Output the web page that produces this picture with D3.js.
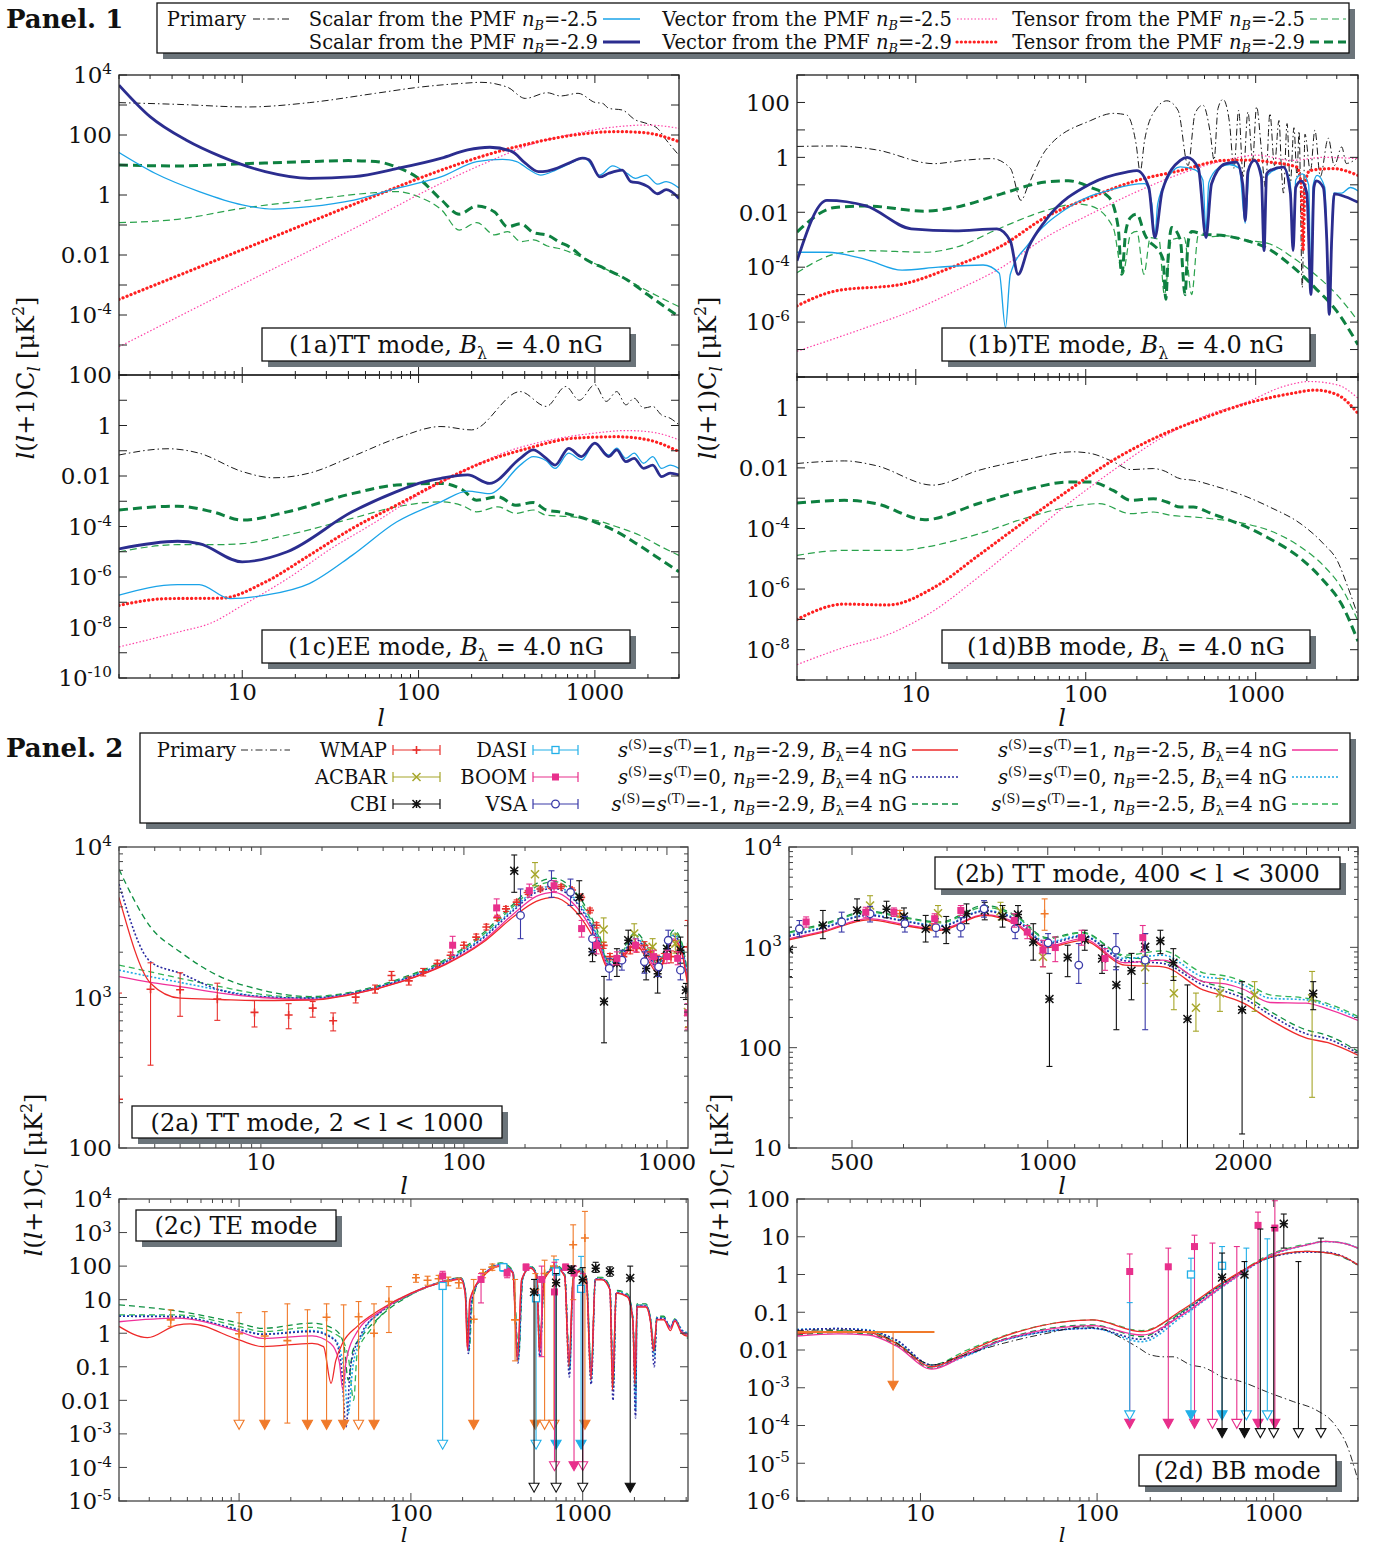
<!DOCTYPE html>
<html>
<head>
<meta charset="utf-8">
<script src="https://cdn.jsdelivr.net/npm/d3@7"></script>
<style>
  body { margin: 0; background: #fff; }
  svg text { font-family: "DejaVu Serif", serif; fill: #111; }
</style>
</head>
<body>
<svg id="fig" width="1390" height="1550"></svg>
<script>
// ---------------- Panel 1 data: [l, l(l+1)Cl]
// (1a) TT
const tt_prim = [[2,1200],[4.3,1050],[10.7,860],[24,1200],[57,2450],[100,3900],[180,5300],[226,5700],[320,3900],[403,1660],[537,2560],[638,2000],[803,2450],[1012,1200],[1100,1150],[1202,770],[1430,680],[1700,316],[1905,257],[2265,166],[2540,68],[3000,21]];
const tt_s25 = [[2,26],[3.2,5.3],[5.7,1.3],[10,0.47],[15,0.34],[24,0.41],[43,0.68],[76,1.7],[135,4.1],[214,13],[300,15.5],[360,13],[427,6.8],[493,4.6],[600,6.8],[760,13],[870,18],[1067,4.6],[1260,9.3],[1520,5.3],[1700,3.6],[1950,4.6],[2265,2.3],[2540,2.8],[3000,1.7]];
const tt_s29 = [[2,4600],[3,410],[4.8,68],[7.6,19],[13.5,6],[24,3.6],[43,4.1],[76,7.7],[135,17],[190,32],[254,39],[339,28],[403,11.5],[479,6],[537,6.3],[713,11.5],[850,17],[925,15],[1067,4],[1200,5.3],[1430,6.8],[1600,2.8],[1800,2.5],[2000,1.9],[2265,1.1],[2540,1.5],[3000,0.77]];
const tt_v25 = [[2,8.7e-6],[10,1.05e-3],[50,0.12],[135,2.5],[250,13],[427,47],[760,110],[1350,190],[2000,215],[3000,166]];
const tt_v29 = [[2,3.3e-4],[10,0.015],[50,0.7],[135,6.8],[239,21],[427,52],[760,100],[1350,130],[1900,120],[3000,60]];
const tt_t25 = [[2,0.12],[4.3,0.155],[10,0.36],[24,0.68],[57,1.2],[76,1.3],[100,0.87],[135,0.32],[170,0.068],[214,0.12],[270,0.047],[320,0.06],[380,0.028],[450,0.032],[537,0.02],[638,0.016],[760,0.011],[1012,0.005],[1350,0.0021],[1800,8.7e-4],[2400,3.6e-4],[3000,1.9e-4]];
const tt_t29 = [[2,10],[4.3,9.3],[10,11],[24,13],[40,14],[57,13],[76,8.3],[100,3.6],[135,0.68],[170,0.23],[214,0.43],[270,0.27],[320,0.087],[380,0.11],[450,0.055],[537,0.046],[638,0.026],[713,0.019],[900,0.0068],[1130,0.0036],[1520,0.0015],[2000,4.7e-4],[3000,8.7e-5]];

// (1b) TE
const te_prim = [[2,2.5],[3.35,2.6],[5.8,1.9],[12.8,0.59],[19,0.78],[28,0.9],[36,0.4],[41.6,0.027],[46,0.1],[58,1.8],[107,22],[145,40],[174,35],[198,3],[209,0.3],[222,4.2],[260,60],[300,115],[350,50],[400,0.5],[440,40],[489,80],[540,8],[569,0.8],[600,60],[642,130],[700,20],[745,0.4],[794,52],[844,0.2],[900,45],[960,0.8],[1012,70],[1080,2],[1142,0.08],[1213,40],[1290,0.5],[1371,22],[1420,0.3],[1458,0.05],[1530,17],[1597,0.1],[1680,12],[1750,0.2],[1800,9],[1880,1.8e-5],[1950,7],[2100,0.3],[2230,9.8],[2400,0.2],[2675,5],[2900,0.5],[3210,2.4],[3410,0.6],[4000,1]];
const te_s25 = [[2,3.5e-4],[3,3.5e-4],[5.1,1.9e-4],[8.3,7.8e-5],[13.6,1e-4],[24.9,1.2e-4],[31,6e-5],[33.7,6.3e-7],[36,5.5e-5],[46,6.9e-4],[79,0.015],[145,0.07],[222,0.11],[245,0.02],[255,1.2e-3],[265,0.02],[300,0.15],[360,0.45],[440,0.35],[489,0.15],[510,2e-3],[530,0.12],[600,0.4],[700,0.55],[800,0.4],[868,4e-3],[920,0.5],[982,0.75],[1080,0.3],[1120,5e-4],[1160,0.2],[1300,0.35],[1458,0.45],[1600,0.1],[1660,5e-4],[1720,0.15],[1880,0.25],[2050,0.1],[2115,1.5e-5],[2180,0.1],[2300,0.22],[2550,0.08],[2710,3e-6],[2870,0.05],[3210,0.05],[3600,0.08],[4000,0.06]];
const te_s29 = [[2,1.7e-4],[3,0.027],[5.1,0.017],[9.4,2.5e-3],[17,2.1e-3],[30,2.5e-3],[36,9e-4],[40,5.5e-5],[46,5.2e-4],[58,5e-3],[107,0.11],[174,0.29],[200,0.33],[235,0.08],[255,1.2e-3],[282,0.06],[360,0.78],[395,1],[460,0.4],[510,1.2e-3],[550,0.11],[660,0.58],[770,0.67],[840,0.1],[868,5e-3],[900,0.3],[982,0.78],[1080,0.19],[1120,4e-4],[1160,0.25],[1213,0.33],[1458,0.44],[1600,0.05],[1660,4e-4],[1720,0.08],[1850,0.14],[2000,0.05],[2115,1e-5],[2200,0.08],[2270,0.14],[2500,0.08],[2620,1e-3],[2710,1.9e-6],[2800,1e-3],[2900,0.047],[3400,0.036],[4000,0.023]];
const te_v25 = [[2,8.7e-8],[5.1,6.3e-7],[9.4,2.5e-6],[17,1.35e-5],[32,9.8e-5],[58,1.2e-3],[107,8.7e-3],[197,0.054],[360,0.25],[660,0.78],[1012,1.2],[1640,0.78],[2500,1],[4000,0.9]];
const te_v29 = [[2,3.9e-6],[3.35,1.35e-5],[8.3,2.4e-5],[17,1.1e-4],[32,6e-4],[58,6.6e-3],[107,0.035],[197,0.14],[360,0.33],[660,0.78],[950,0.8],[1213,0.67],[1750,0.44],[1850,0.1],[1900,4e-4],[1950,0.1],[2080,0.33],[2843,0.39],[4000,0.22]];
const te_t25 = [[2,6.3e-5],[3.35,3e-4],[5.1,4e-4],[11.3,3.5e-4],[17,5.2e-4],[32,2.8e-3],[58,0.0115],[89,0.02],[107,0.017],[145,2.8e-3],[165,5.5e-5],[184,1.6e-3],[200,2e-3],[220,5.5e-5],[240,1.2e-3],[270,1e-3],[290,1e-5],[320,1e-3],[380,1.2e-3],[420,1e-5],[460,1.5e-3],[560,1.3e-3],[660,1.4e-3],[900,9.5e-4],[1213,7e-4],[1660,2.2e-4],[2230,5.5e-5],[3000,1e-5],[4000,1.1e-6]];
const te_t29 = [[2,1.9e-3],[3.35,0.015],[5.1,0.017],[11.3,0.011],[17,0.015],[32,0.047],[58,0.126],[79,0.14],[107,0.08],[137,0.035],[155,3e-3],[163,5.5e-5],[172,2e-3],[184,6.6e-3],[200,8.5e-3],[222,1.6e-3],[285,2e-4],[296,6.8e-6],[305,2e-4],[320,2.8e-3],[360,1e-3],[384,1e-5],[400,8e-4],[420,2e-3],[489,1.6e-3],[660,1.4e-3],[900,9e-4],[1150,5.2e-4],[1660,1e-4],[2230,1.8e-5],[3000,2.5e-6],[4000,1.5e-7]];

// (1c) EE
const ee_prim = [[2,0.068],[3.8,0.12],[5.7,0.08],[10,0.015],[15,8.5e-3],[24,0.013],[42,0.059],[75,0.31],[134,0.91],[200,0.67],[377,22],[530,5.7],[685,35],[815,10],[1000,41],[1160,9],[1330,22],[1500,6.6],[1670,12],[1890,4.9],[2130,5.7],[2390,2.6],[2670,1.95],[3000,1.06]];
const ee_s25 = [[2,1.9e-7],[4.3,5e-7],[5.7,5e-7],[8.5,1.4e-7],[13.5,1.9e-7],[24,5.5e-7],[42,7.2e-6],[75,1.5e-4],[134,9.5e-4],[190,2.5e-3],[253,2e-3],[377,0.027],[447,0.059],[530,0.04],[595,0.02],[710,0.08],[840,0.043],[1000,0.2],[1200,0.068],[1330,0.126],[1500,0.05],[1670,0.08],[1890,0.032],[2130,0.059],[2390,0.02],[2670,0.027],[3000,0.02]];
const ee_s29 = [[2,1.3e-5],[4.3,2.6e-5],[5.7,2.1e-5],[10,4e-6],[18,1e-5],[42,3.8e-4],[75,2.4e-3],[100,5.1e-3],[134,8.1e-3],[190,0.011],[253,5.1e-3],[377,0.05],[447,0.108],[530,0.05],[595,0.027],[710,0.125],[840,0.059],[1000,0.2],[1200,0.059],[1330,0.108],[1500,0.037],[1670,0.05],[1890,0.02],[2130,0.027],[2390,9.4e-3],[2670,0.013],[3000,0.011]];
const ee_v25 = [[2,1.7e-9],[4.3,6.5e-9],[6.8,1.6e-8],[10,7.5e-8],[18,8.5e-7],[32,1.35e-5],[57,1.5e-4],[100,1.8e-3],[178,0.015],[318,0.093],[565,0.27],[1000,0.5],[1500,0.63],[2130,0.54],[3000,0.27]];
const ee_v29 = [[2,7.5e-8],[3.8,1.4e-7],[7.6,1.45e-7],[13.5,6.3e-7],[24,7.2e-6],[42,8.3e-5],[75,7e-4],[134,5.9e-3],[238,0.037],[420,0.126],[750,0.31],[1330,0.36],[2000,0.27],[3000,0.093]];
const ee_t25 = [[2,1e-5],[4.3,1.9e-5],[6.8,1.9e-5],[10,2.1e-5],[18,4.6e-5],[42,2.1e-4],[75,6e-4],[134,9.5e-4],[178,6.6e-4],[213,3.8e-4],[282,6e-4],[356,3.3e-4],[447,4.5e-4],[530,2.8e-4],[750,2.4e-4],[1000,1.8e-4],[1330,9.8e-5],[1780,4.6e-5],[2390,1.55e-5],[3000,7.2e-6]];
const ee_t29 = [[2,4.5e-4],[4.3,6.4e-4],[6.8,3.8e-4],[10,1.8e-4],[18,3.8e-4],[42,2e-3],[75,4.4e-3],[134,5.1e-3],[178,2.8e-3],[213,1.1e-3],[282,1.5e-3],[356,7e-4],[447,8.9e-4],[530,4.5e-4],[630,3.8e-4],[750,2.8e-4],[1000,1.5e-4],[1330,6.2e-5],[1780,1.8e-5],[2390,4.6e-6],[3000,1.6e-6]];

// (1d) BB
const bb_prim = [[2,0.014],[3.8,0.017],[5.8,0.012],[12.6,2.7e-3],[23.4,8.3e-3],[43,0.018],[84,0.034],[107,0.03],[145,0.016],[184,8.8e-3],[250,9.5e-3],[282,8.4e-3],[360,4.4e-3],[430,3.9e-3],[550,2.7e-3],[890,1.1e-3],[1210,5.1e-4],[1850,1.4e-4],[2510,3.1e-5],[3020,8.7e-6],[3500,1.1e-6],[4000,1.3e-7]];
const bb_v25 = [[2,3.2e-9],[3.8,1.2e-8],[6.9,3.2e-8],[12.7,1.9e-7],[23.4,2.5e-6],[43,4e-5],[79,6.6e-4],[145,8.3e-3],[265,0.083],[490,0.49],[890,1.5],[1460,4.9],[2080,7.1],[3020,5.5],[4000,2]];
const bb_v29 = [[2,1e-7],[3.8,3.2e-7],[6.9,3e-7],[12.7,1.1e-6],[23.4,1.3e-5],[43,1.6e-4],[79,1.8e-3],[145,0.018],[265,0.107],[490,0.43],[890,1.35],[1650,2.9],[2230,3.7],[3020,2.6],[4000,0.63]];
const bb_t25 = [[2,1.3e-5],[3.8,1.9e-5],[8.3,1.9e-5],[11.3,2.4e-5],[23.4,6.6e-5],[43,2.1e-4],[79,5.1e-4],[120,6.6e-4],[184,3.1e-4],[250,3.5e-4],[320,2.7e-4],[430,2.4e-4],[550,2.1e-4],[890,1.4e-4],[1210,8.5e-5],[1850,2.4e-5],[2510,5.9e-6],[3200,1.1e-6],[4000,8.9e-8]];
const bb_t29 = [[2,6.9e-4],[3.8,8.5e-4],[5.8,6.7e-4],[11.3,1.95e-4],[23.4,6.7e-4],[43,1.8e-3],[79,3.4e-3],[107,3.4e-3],[145,1.8e-3],[184,8.5e-4],[250,9.6e-4],[300,7.5e-4],[360,5.1e-4],[430,5.1e-4],[550,3.1e-4],[890,1.1e-4],[1210,4.6e-5],[1850,1e-5],[2510,1.9e-6],[3200,3.2e-7],[4000,1.9e-8]];

// ---------------- Panel 2 model curves
// (2a) TT, 2 < l < 1000
const tt2a_s1_29 = [[2,4630],[2.86,1245],[4,990],[6.3,970],[10,955],[17.5,960],[29.3,1060],[48.9,1270],[81.5,1660],[123,2300],[176,3450],[227,4350],[278,4630],[341,3950],[398,3050],[464,2100],[514,1550],[600,1800],[699,2250],[800,1800],[903,1450],[1000,2000],[1080,2400],[1180,2000],[1272,1150]];
const tt2a_s1_25 = [[2,1375],[2.86,1260],[4,1180],[6.3,1070],[10,1000],[17.5,970],[29.3,1065],[48.9,1275],[81.5,1680],[123,2350],[176,3600],[227,4700],[278,5000],[341,4300],[398,3300],[464,2250],[514,1600],[600,1850],[699,2350],[800,1900],[903,1500],[1000,2050],[1080,2450],[1180,2050],[1272,1200]];
const tt2a_s0_29 = [[2,5680],[2.86,1725],[4,1450],[6.3,1120],[10,1015],[17.5,990],[29.3,1080],[48.9,1300],[81.5,1720],[123,2450],[176,3800],[227,5000],[278,5300],[341,4600],[398,3500],[464,2350],[514,1650],[600,1900],[699,2450],[800,2000],[903,1550],[1000,2100],[1080,2550],[1180,2150],[1272,1250]];
const tt2a_s0_25 = [[2,1520],[2.86,1375],[4,1260],[6.3,1120],[10,1015],[17.5,990],[29.3,1080],[48.9,1310],[81.5,1740],[123,2500],[176,3900],[227,5200],[278,5500],[341,4750],[398,3600],[464,2400],[514,1680],[600,1950],[699,2500],[800,2050],[903,1580],[1000,2150],[1080,2600],[1180,2200],[1272,1280]];
const tt2a_sm_29 = [[2,7100],[2.86,2940],[4,2010],[6.3,1375],[10,1125],[17.5,1015],[29.3,1100],[48.9,1340],[81.5,1800],[123,2650],[176,4200],[227,5700],[278,6200],[341,5300],[398,4000],[464,2600],[514,1750],[600,2050],[699,2700],[800,2200],[903,1650],[1000,2300],[1080,2800],[1180,2350],[1272,1350]];
const tt2a_sm_25 = [[2,1640],[2.86,1480],[4,1340],[6.3,1180],[10,1050],[17.5,1000],[29.3,1090],[48.9,1320],[81.5,1770],[123,2580],[176,4050],[227,5450],[278,5900],[341,5050],[398,3800],[464,2500],[514,1720],[600,2000],[699,2600],[800,2150],[903,1620],[1000,2250],[1080,2700],[1180,2300],[1272,1320]];

// (2b) TT, 400 < l < 3000
const l_2b = [400,452,530,601,683,799,893,997,1131,1314,1503,1733,1876,2000,2197,2494,2698,3000];
const tt2b_s1_29 = [1190,1420,1880,1650,1480,2080,1690,995,1175,665,640,376,324,278,190,125,112,84];
const tt2b_s1_25 = [1220,1450,1930,1690,1520,2120,1750,1025,1220,702,745,455,432,382,282,278,242,187];
const tt2b_s0_29 = [1290,1560,2080,1820,1620,2290,1880,1090,1290,734,691,422,362,311,213,138,122,88];
const tt2b_s0_25 = [1320,1590,2120,1850,1650,2330,1930,1130,1320,774,836,510,480,422,311,300,261,197];
const tt2b_sm_29 = [1420,1720,2290,2000,1790,2610,2080,1250,1410,804,734,455,391,336,230,151,132,92];
const tt2b_sm_25 = [1390,1680,2240,1970,1750,2510,2030,1220,1390,836,922,558,518,455,336,311,274,205];

// (2c) TE
const te2_s1_29 = [[2,1.6],[2.93,0.74],[4.35,1.75],[5.2,1.9],[10,0.63],[13.7,0.4],[26.6,0.5],[31,0.4],[34.3,0.032],[36.5,0.15],[40,0.5],[48.7,1.6],[66,5],[100,15.6],[163,35],[195,40],[207,15],[213,0.35],[220,10],[263,49],[334,98],[392,62],[416,0.15],[441,39],[495,87],[541,49],[558,0.3],[596,39],[700,87],[785,49],[830,0.1],[880,39],[960,69],[1050,39],[1114,0.04],[1185,39],[1295,39],[1440,19.6],[1490,0.02],[1567,15.6],[1818,12],[1955,2.5],[2012,0.03],[2070,6],[2330,6],[2470,2.5],[2590,0.3],[2700,2.5],[2960,2.5],[3240,1.2],[3440,2.3],[3760,1],[4100,0.8]];
const te2_s1_25 = [[2,2.2],[4.35,2.8],[10,1.12],[13.7,0.7],[26.6,0.83],[34,0.5],[38.3,0.14],[40.2,0.02],[41.9,0.14],[48.7,1.12],[66,4.4],[100,15],[163,36],[195,42],[207,16],[214,0.3],[222,10],[263,52],[334,105],[392,65],[418,0.2],[441,41],[495,90],[541,50],[560,0.25],[596,40],[700,90],[785,50],[833,0.15],[880,40],[960,72],[1050,40],[1118,0.05],[1185,40],[1295,40],[1440,20],[1495,0.05],[1567,16],[1818,12.5],[1955,2.6],[2020,0.05],[2070,6.3],[2330,6.3],[2470,2.6],[2600,0.35],[2700,2.6],[2960,2.6],[3240,1.4],[3440,2.4],[3760,1.1],[4100,0.9]];
const te2_s0_29 = [[2,3.2],[4.35,3.1],[10,1.26],[13.7,0.93],[26.6,1.12],[36,0.63],[39.4,0.1],[41.9,1.6e-3],[44.5,0.1],[51.7,1],[66,4],[100,15],[163,37],[195,43],[207,17],[216,0.25],[225,9],[263,52],[334,108],[392,66],[420,0.13],[445,40],[495,92],[541,52],[562,0.2],[596,42],[700,92],[785,52],[836,0.05],[880,41],[960,74],[1050,42],[1120,0.03],[1185,41],[1295,41],[1440,21],[1500,0.01],[1567,16],[1818,13],[1955,2.8],[2030,3e-3],[2070,6.5],[2330,6.5],[2470,2.8],[2610,0.1],[2700,2.8],[2960,2.8],[3240,1.5],[3440,2.5],[3760,1.2],[4100,0.9]];
const te2_s0_25 = [[2,3.3],[4.35,3.15],[10,1.31],[13.7,0.95],[26.6,1.2],[36,0.66],[40.6,0.1],[43.2,4e-3],[45.9,0.1],[53.3,1.12],[66,4.2],[100,15],[163,37],[195,44],[207,18],[217,0.3],[226,9],[263,54],[334,110],[392,68],[421,0.15],[446,41],[495,94],[541,53],[563,0.25],[596,43],[700,94],[785,53],[838,0.08],[880,42],[960,76],[1050,43],[1122,0.04],[1185,42],[1295,42],[1440,22],[1505,0.02],[1567,17],[1818,13.5],[1955,2.9],[2035,5e-3],[2070,6.8],[2330,6.8],[2470,2.9],[2620,0.2],[2700,2.9],[2960,2.9],[3240,1.6],[3440,2.6],[3760,1.3],[4100,1.0]];
const te2_sm_29 = [[2,7],[4.35,4.6],[10,2],[13.7,1.4],[26.6,2],[36,1.3],[40.6,0.5],[43.2,0.04],[45.9,0.3],[51.7,0.8],[66,3.1],[100,14],[163,38],[195,46],[207,20],[218,0.3],[228,9],[263,55],[334,125],[392,75],[424,0.2],[448,45],[495,100],[541,58],[565,0.3],[596,46],[700,105],[785,58],[840,0.1],[880,46],[960,82],[1050,46],[1125,0.06],[1185,46],[1295,46],[1440,24],[1510,0.03],[1567,19],[1818,15],[1955,3.2],[2040,0.02],[2070,7.5],[2330,7.5],[2470,3.2],[2630,0.3],[2700,3.2],[2960,3.2],[3240,1.4],[3440,2.6],[3760,1.1],[4100,0.7]];
const te2_sm_25 = [[2,3.5],[4.35,3.5],[10,1.6],[13.7,1.12],[26.6,1.5],[38.3,0.8],[43.2,0.2],[46.4,0.01],[48.7,0.25],[58.4,1.3],[70,4.4],[100,14],[163,37],[195,45],[207,19],[217,0.35],[227,9],[263,54],[334,120],[392,72],[422,0.25],[447,44],[495,97],[541,56],[564,0.3],[596,45],[700,100],[785,56],[838,0.12],[880,45],[960,80],[1050,45],[1123,0.07],[1185,45],[1295,45],[1440,23],[1505,0.04],[1567,18],[1818,14],[1955,3],[2035,0.03],[2070,7],[2330,7],[2470,3],[2620,0.35],[2700,3],[2960,3],[3240,1.5],[3440,2.7],[3760,1.2],[4100,0.8]];

// (2d) BB
const l_2d = [2,3.4,5.1,7.3,11.6,18.4,29.4,94,179,303,543,971,1549,1955,2466,3000];
const bb2_s1_29 = [0.0266,0.0307,0.0288,0.015,0.0036,0.009,0.0226,0.0625,0.0307,0.115,0.72,3.0,4.1,3.8,3.0,1.8];
const bb2_s1_25 = [0.0235,0.0266,0.025,0.0128,0.0031,0.0078,0.0184,0.0443,0.025,0.085,0.59,3.33,6.1,7.5,6.8,5.0];
const bb2_s0_29 = [0.034,0.0368,0.0326,0.0184,0.004,0.0074,0.0184,0.0376,0.0192,0.094,0.65,2.88,3.9,3.9,3.0,1.8];
const bb2_s0_25 = [0.0354,0.0368,0.034,0.0177,0.0036,0.0071,0.0177,0.0376,0.0166,0.077,0.565,3.19,6.1,7.4,6.8,5.0];
const bb2_sm_29 = [0.025,0.0288,0.0266,0.0136,0.0033,0.0082,0.0192,0.0461,0.0226,0.104,0.69,2.88,4.1,3.8,2.88,1.77];
const bb2_sm_25 = [0.0288,0.0326,0.0307,0.0157,0.004,0.01,0.0235,0.0625,0.0326,0.104,0.65,3.54,6.4,7.5,6.8,5.0];
const bb2_prim = [[2,0.033],[3.4,0.034],[5.1,0.031],[6.8,0.019],[10.3,4.9e-3],[11.6,4e-3],[16.4,6.6e-3],[29.4,0.015],[52.7,0.028],[84,0.041],[106,0.037],[134,0.022],[169,0.012],[201,7.4e-3],[240,6.6e-3],[269,6.6e-3],[340,4e-3],[405,3.4e-3],[456,2.6e-3],[510,1.9e-3],[610,1.6e-3],[970,7e-4],[1290,4.3e-4],[1730,2.6e-4],[2200,1.1e-4],[2620,2.7e-5],[3000,3.5e-6]];

// ---------------- Panel 2 measurements: [l, value, low, high, arrow(0 none,1 filled,2 open)]
const wmap_2a = [[2,211,60,1070],[2.86,1135,355,1700],[4,1125,750,1460],[6.1,975,705,1245],[9.3,796,637,955],[13.7,765,620,910],[18,850,740,940],[22.7,700,600,790],[29.3,1005,920,1065],[36.5,1135,1070,1210],[44,1400,1300,1490],[53.5,1290,1210,1370],[63,1480,1390,1560],[74,1680,1600,1770],[86,1910,1820,2000],[100,2225,2130,2330],[115,2520,2420,2640],[129,2940,2810,3070],[146,3390,3240,3520],[161,3880,3730,4030],[182,4300,4150,4450],[206,4990,4830,5150],[238,5260,5100,5420],[268,5450,5290,5610],[301,5450,5290,5610],[341,5180,5020,5340],[378,4630,4480,4780],[418,3790,3650,3930],[450,3020,2900,3140],[488,2220,2120,2320],[524,1870,1780,1960],[567,1730,1640,1820],[610,1870,1770,1970],[660,2060,1950,2170],[710,2120,2000,2240],[775,2220,2090,2350],[830,2010,1880,2140],[895,1780,1650,1910],[965,1820,1680,1960],[1047,1870,1700,2040],[1130,2010,1800,2220],[1265,2170,630,3250]];
const boom_2a = [[88,2225,1910,2550],[145,3940,3450,4520],[210,5130,4630,5670],[278,5530,5050,5970],[380,2870,2520,3250],[450,2220,1950,2500],[567,1820,1650,2010],[700,2220,2010,2450],[860,1870,1690,2060],[1000,1870,1690,2060],[1130,1820,1650,2010],[1265,790,610,910]];
const acbar_2a = [[224,6600,5530,7880],[488,2830,2340,3380],[690,2660,2280,3090],[850,2170,1870,2460],[1100,2280,1970,2640],[1270,800,640,1000]];
const cbi_2a = [[177,6950,5000,8850],[370,4630,3600,5970],[430,2010,1730,2400],[490,940,500,1380],[567,1690,1380,2110],[645,2400,2060,2800],[790,1560,1310,1910],[900,1440,1070,1780],[1000,2110,1820,2400],[1166,2060,1690,2520],[1240,1120,970,1240]];
const vsa_2a = [[190,3510,2460,5260],[270,5670,4630,6950],[335,5000,4090,6120],[430,2460,2010,3020],[520,1560,1310,1820],[600,1770,1520,2060],[775,1730,1450,2010],[910,1600,1380,1870],[1015,2400,2060,2800],[1166,1520,1310,1820]];

const cbi_2b = [[400,950,510,1590],[451,1650,1220,2330],[509,2330,1850,3040],[565,2400,1970,2880],[601,2030,1590,2470],[649,1530,1130,2080],[698,1500,1090,2030],[750,2160,1720,2710],[800,2330,1880,2810],[852,2030,1590,2610],[900,2120,1690,2610],[950,1130,745,1720],[1006,305,65,551],[1073,792,510,1050],[1140,1190,935,1480],[1212,774,550,1050],[1275,422,151,640],[1345,585,300,870],[1412,1010,691,1370],[1490,1160,865,1480],[1560,702,468,970],[1640,193,9,422],[1990,239,13.8,455],[2560,344,239,455]];
const acbar_2b = [[533,2610,2080,3270],[678,2190,1790,2610],[846,2290,1880,2810],[983,804,640,970],[1412,632,437,836],[1563,348,239,510],[1690,250,146,350],[1840,348,230,490],[2080,336,230,455],[2550,311,32,575]];
const boom_2b = [[425,1790,1590,2010],[525,2240,1970,2510],[580,2240,2030,2470],[670,1930,1720,2160],[735,2330,2080,2610],[888,1850,1590,2160],[930,1420,1220,1650],[983,937,640,1175],[1027,995,720,1270],[1127,1250,1050,1480],[1225,774,590,970],[1400,1250,902,1650]];
const vsa_2b = [[415,1530,1270,1850],[482,1790,1420,2240],[533,2160,1790,2560],[603,1720,1420,2030],[673,1570,1270,1930],[735,1590,1270,1970],[798,2420,2000,2920],[891,1530,1220,1930],[1001,1110,865,1370],[1116,665,437,1090],[1273,937,598,1370],[1412,745,151,1370]];
const wmap_2b = [[592,2160,2000,2330],[664,1590,1480,1720],[989,2160,1480,3040]];

const wmap_2c = [[4,2.5,1.6,5,0],[10,0.96,0.0018,4.1,2],[14.1,0.83,0.0018,4.4,1],[19.1,0.6,0.0021,7.5,0],[25,null,0.0018,5,1],[32.3,3,0.0018,7.5,1],[40.6,null,0.0018,7,1],[49.6,3.1,0.0018,8.8,2],[61,1,0.0018,7.5,1],[74.5,8.8,1.05,24.5,0],[107,45,33,56,0],[125,38,27,50,0],[145,42,31,53,0],[165,36,26,47,0],[190,32,22,44,0],[232,2.6,0.0018,40,1],[263,62,45,80,0],[298,93,75,115,0],[404,2.5,0.15,40,0],[530,20,0.0018,60,1],[600,60,0.0018,150,2],[680,100,0.0018,200,2],[880,435,10,1700,0],[1030,690,0.0018,4270,1]];
const dasi_2c = [[153,25.7,4.6e-4,31,2],[345,93,70,120,0],[535,11,4.6e-4,40,2],[700,69,4.6e-4,155,1],[978,21,4.6e-4,195,1]];
const boom_2c = [[153,51,35,70,0],[256,40,8,60,0],[363,62,45,80,0],[468,93,75,115,0],[577,40,0.2,100,0],[685,17,1.05e-4,130,2],[795,93,75,115,0],[890,62,1.05e-4,100,1],[1000,null,1.05e-4,60,2]];
const cbi_2c = [[521,17,2.4e-5,40,2],[700,32,2.4e-5,60,2],[860,81,60,100,0],[1000,39,2.4e-5,90,2],[1190,87,65,130,0],[1440,69,50,95,0],[1890,44,2.4e-5,100,1]];

const wmap_2d = [[7,null,1.1e-3,0.03,1]];
const wmap_2d_bin = [2,12,0.03];
const boom_2d = [[153,1.2,1.07e-4,3.5,1],[253,1.6,1.07e-4,5,1],[356,5.5,1.07e-4,11,1],[450,null,1.07e-4,6.8,2],[618,null,1.07e-4,5.5,2],[815,20,1.07e-4,45,1],[1015,17,1.07e-4,90,1]];
const dasi_2d = [[153,null,1.8e-4,0.18,2],[340,1.0,1.8e-4,2.7,1],[510,1.7,1.8e-4,5.5,1],[700,null,1.8e-4,5,2],[920,null,1.8e-4,8.8,2]];
const cbi_2d = [[510,0.83,6.1e-5,3.7,1],[683,1.0,6.1e-5,2.2,1],[840,null,6.1e-5,16,2],[1000,null,6.1e-5,17.6,2],[1140,22,5,40,0],[1380,null,6.1e-5,2.2,2],[1850,null,6.1e-5,9.2,2]];

// ---------------- styles
const S1 = {
  prim: {c: '#1a1a1a', w: 1, d: '7,3,1.5,3'},
  s25: {c: '#1aa3e8', w: 1.3},
  s29: {c: '#2b2d8f', w: 2.8},
  v25: {c: '#ff3fa6', w: 1.2, d: '1.5,2'},
  v29: {c: '#ff2020', w: 3.2, d: '0.1,4.2', cap: 'round'},
  t25: {c: '#2aa24c', w: 1.2, d: '7,4'},
  t29: {c: '#0e8040', w: 3, d: '9,5'}
};
const S2 = {
  s1_29: {c: '#ee2a2a', w: 1.3},
  s1_25: {c: '#f0309a', w: 1.3},
  s0_29: {c: '#2a2aa0', w: 1.6, d: '2,2'},
  s0_25: {c: '#1ea8e4', w: 1.6, d: '2,2'},
  sm_29: {c: '#0f9042', w: 1.3, d: '6,4'},
  sm_25: {c: '#32b455', w: 1.3, d: '6,4'},
  prim: {c: '#111', w: 0.9, d: '7,3,1.5,3'}
};
const DS = {
  WMAP: {c: '#e8302c', m: 'plus'},
  WMAPo: {c: '#f07a2a', m: 'plus'},
  ACBAR: {c: '#a6a62a', m: 'cross'},
  CBI: {c: '#111', m: 'star'},
  DASI: {c: '#22b0e8', m: 'sqo'},
  BOOM: {c: '#e8308c', m: 'sqf'},
  VSA: {c: '#3a3aa8', m: 'circ'}
};

const svg = d3.select('#fig');
const TF = 23; // tick label size
let clipN = 0;

function rich(t, parts, fs) {
  let off = 0;
  parts.forEach(([s, st]) => {
    const ts = t.append('tspan').text(s);
    let target = 0, size = fs;
    if (st.includes('sup')) { target = -fs * 0.4; size = fs * 0.66; }
    if (st.includes('sub')) { target = fs * 0.25; size = fs * 0.66; }
    if (st.startsWith('i')) ts.attr('font-style', 'italic');
    ts.attr('font-size', size).attr('dy', target - off);
    off = target;
  });
}

function logTicks(d) {
  const out = [];
  for (let e = Math.floor(Math.log10(d[0])); e <= Math.ceil(Math.log10(d[1])); e++) {
    for (let m = 1; m <= 9; m++) {
      const v = m * Math.pow(10, e);
      if (v >= d[0] * 0.999 && v <= d[1] * 1.001) out.push([v, m === 1]);
    }
  }
  return out;
}

function makePlot(f) {
  const x = d3.scaleLog().domain(f.xd).range(f.xr);
  const y = d3.scaleLog().domain(f.yd).range([f.yr[1], f.yr[0]]);
  const id = 'clip' + (clipN++);
  svg.append('clipPath').attr('id', id).append('rect')
    .attr('x', f.xr[0]).attr('y', f.yr[0]).attr('width', f.xr[1] - f.xr[0]).attr('height', f.yr[1] - f.yr[0]);
  const g = svg.append('g');
  const plot = g.append('g').attr('clip-path', `url(#${id})`);
  const ax = g.append('g').attr('stroke', f.fc || '#222');
  const [x0, x1] = f.xr, [y0, y1] = f.yr;
  (f.xticks || logTicks(f.xd)).forEach(([v, major]) => {
    const px = x(v), len = major ? 8 : 4;
    ax.append('line').attr('x1', px).attr('x2', px).attr('y1', y1).attr('y2', y1 - len);
    ax.append('line').attr('x1', px).attr('x2', px).attr('y1', y0).attr('y2', y0 + len);
  });
  logTicks(f.yd).forEach(([v, major]) => {
    if (!major && !f.yMinor) return;
    const py = y(v), len = major ? 8 : 4;
    ax.append('line').attr('x1', x0).attr('x2', x0 + len).attr('y1', py).attr('y2', py);
    ax.append('line').attr('x1', x1).attr('x2', x1 - len).attr('y1', py).attr('y2', py);
  });
  ax.append('rect').attr('x', x0).attr('y', y0).attr('width', x1 - x0).attr('height', y1 - y0)
    .attr('fill', 'none').attr('stroke-width', 1.3);
  const lab = svg.append('g');
  (f.xlab || []).forEach(v => {
    lab.append('text').attr('x', x(v)).attr('y', y1 + (f.xdy || 22)).attr('text-anchor', 'middle')
      .attr('font-size', TF).text(String(v));
  });
  (f.ylab || []).forEach(v => {
    const e = Math.round(Math.log10(v));
    const t = lab.append('text').attr('x', x0 - 7).attr('y', y(v) + TF * 0.36)
      .attr('text-anchor', 'end').attr('font-size', TF);
    if (Math.abs(e) >= 3) rich(t, [['10', ''], [String(e), 'sup']], TF);
    else t.text(e >= 0 ? String(Math.round(v)) : v.toFixed(-e));
  });
  return {x, y, plot};
}

function curve(p, data, st) {
  p.plot.append('path').datum(data)
    .attr('d', d3.line().x(d => p.x(d[0])).y(d => p.y(d[1])).curve(d3.curveMonotoneX))
    .attr('fill', 'none').attr('stroke', st.c).attr('stroke-width', st.w)
    .attr('stroke-linecap', st.cap || 'butt')
    .attr('stroke-dasharray', st.d || null);
}
const zip = (ls, vs) => ls.map((l, i) => [l, vs[i]]);

function marker(g, type, cx, cy, c) {
  const s = 4;
  if (type === 'plus') g.append('path').attr('d', `M${cx - s},${cy}h${2 * s}M${cx},${cy - s}v${2 * s}`).attr('stroke', c).attr('stroke-width', 1.6);
  if (type === 'cross') g.append('path').attr('d', `M${cx - s},${cy - s}l${2 * s},${2 * s}M${cx - s},${cy + s}l${2 * s},${-2 * s}`).attr('stroke', c).attr('stroke-width', 1.5);
  if (type === 'star') g.append('path').attr('d', `M${cx - s},${cy - s}l${2 * s},${2 * s}M${cx - s},${cy + s}l${2 * s},${-2 * s}M${cx},${cy - s}v${2 * s}M${cx - s},${cy}h${2 * s}`).attr('stroke', c).attr('stroke-width', 1.5);
  if (type === 'sqo') g.append('rect').attr('x', cx - 3.5).attr('y', cy - 3.5).attr('width', 7).attr('height', 7).attr('fill', '#fff').attr('stroke', c).attr('stroke-width', 1.3);
  if (type === 'sqf') g.append('rect').attr('x', cx - 3.5).attr('y', cy - 3.5).attr('width', 7).attr('height', 7).attr('fill', c);
  if (type === 'circ') g.append('circle').attr('cx', cx).attr('cy', cy).attr('r', 3.8).attr('fill', '#fff').attr('stroke', c).attr('stroke-width', 1.3);
}

function errbars(p, rows, ds) {
  const g = p.plot.append('g');
  rows.forEach(([l, v, lo, hi, arrow]) => {
    const px = p.x(l), ph = p.y(hi), pl = p.y(lo);
    g.append('line').attr('x1', px).attr('x2', px).attr('y1', ph).attr('y2', pl).attr('stroke', ds.c).attr('stroke-width', 1.1);
    g.append('line').attr('x1', px - 3).attr('x2', px + 3).attr('y1', ph).attr('y2', ph).attr('stroke', ds.c).attr('stroke-width', 1.1);
    if (!arrow) {
      g.append('line').attr('x1', px - 3).attr('x2', px + 3).attr('y1', pl).attr('y2', pl).attr('stroke', ds.c).attr('stroke-width', 1.1);
    } else {
      g.append('path').attr('d', `M${px - 5},${pl - 5}L${px + 5},${pl - 5}L${px},${pl + 4}Z`)
        .attr('fill', arrow === 1 ? ds.c : '#fff').attr('stroke', ds.c).attr('stroke-width', 1.1);
    }
    if (v != null) marker(g, ds.m, px, p.y(v), ds.c);
  });
}

function tag(x, y, w, h, parts, fs) {
  svg.append('rect').attr('x', x + 6).attr('y', y + 6).attr('width', w).attr('height', h).attr('fill', '#6b747a');
  svg.append('rect').attr('x', x).attr('y', y).attr('width', w).attr('height', h)
    .attr('fill', '#fff').attr('stroke', '#111').attr('stroke-width', 1.3);
  const t = svg.append('text').attr('x', x + w / 2).attr('y', y + h / 2 + fs * 0.36)
    .attr('text-anchor', 'middle').attr('font-size', fs);
  rich(t, parts, fs);
}

function yTitle(cx, cy) {
  const t = svg.append('text').attr('x', cx).attr('y', cy).attr('text-anchor', 'middle')
    .attr('font-size', 24).attr('transform', `rotate(-90,${cx},${cy})`);
  rich(t, [['l', 'i'], ['(', ''], ['l', 'i'], ['+1)C', ''], ['l', 'isub'], ['  [μK', ''], ['2', 'sup'], [']', '']], 24);
}
function xTitle(cx, cy, fs) {
  svg.append('text').attr('x', cx).attr('y', cy).attr('text-anchor', 'middle')
    .attr('font-size', fs || 24).attr('font-style', 'italic').text('l');
}

// ---------------- Panel 1
const p1a = makePlot({xr: [119, 679], yr: [75, 375], xd: [2, 3000], yd: [1e-6, 1e4], ylab: [1e4, 100, 1, 0.01, 1e-4]});
const p1c = makePlot({xr: [119, 679], yr: [375, 678], xd: [2, 3000], yd: [1e-10, 100], ylab: [100, 1, 0.01, 1e-4, 1e-6, 1e-8, 1e-10], xlab: [10, 100, 1000]});
const p1b = makePlot({xr: [797, 1358], yr: [75, 377], xd: [2, 4000], yd: [1e-8, 1e3], ylab: [100, 1, 0.01, 1e-4, 1e-6]});
const p1d = makePlot({xr: [797, 1358], yr: [377, 680], xd: [2, 4000], yd: [1e-9, 10], ylab: [1, 0.01, 1e-4, 1e-6, 1e-8], xlab: [10, 100, 1000]});

[[p1a, [tt_prim, tt_t25, tt_t29, tt_v25, tt_v29, tt_s25, tt_s29]],
 [p1b, [te_prim, te_t25, te_t29, te_v25, te_v29, te_s25, te_s29]],
 [p1c, [ee_prim, ee_t25, ee_t29, ee_v25, ee_v29, ee_s25, ee_s29]]].forEach(([p, ds]) => {
  const st = [S1.prim, S1.t25, S1.t29, S1.v25, S1.v29, S1.s25, S1.s29];
  ds.forEach((d, i) => curve(p, d, st[i]));
});
[bb_prim, bb_t25, bb_t29, bb_v25, bb_v29].forEach((d, i) =>
  curve(p1d, d, [S1.prim, S1.t25, S1.t29, S1.v25, S1.v29][i]));

const tagTxt = (id, mode) => [[`(${id})${mode} mode, `, ''], ['B', 'i'], ['λ', 'sub'], [' = 4.0 nG', '']];
tag(262, 328, 368, 33, tagTxt('1a', 'TT'), 24);
tag(942, 328, 368, 33, tagTxt('1b', 'TE'), 24);
tag(262, 630, 368, 33, tagTxt('1c', 'EE'), 24);
tag(942, 630, 368, 33, tagTxt('1d', 'BB'), 24);

yTitle(34, 378); yTitle(716, 378);
xTitle(381, 726); xTitle(1062, 726);

// legend 1
svg.append('rect').attr('x', 163).attr('y', 9).attr('width', 1192).attr('height', 50).attr('fill', '#6b747a');
svg.append('rect').attr('x', 157).attr('y', 3).attr('width', 1192).attr('height', 50).attr('fill', '#fff').attr('stroke', '#111').attr('stroke-width', 1.3);
svg.append('text').attr('x', 6).attr('y', 28).attr('font-size', 26).attr('font-weight', 'bold').text('Panel. 1');
const pmf = (kind, nb) => [[kind + ' from the PMF ', ''], ['n', 'i'], ['B', 'isub'], ['=' + nb, '']];
const leg1 = [
  [[['Primary', '']], S1.prim, 246, 253, 290, 19],
  [pmf('Scalar', '-2.5'), S1.s25, 598, 603, 640, 19],
  [pmf('Vector', '-2.5'), S1.v25, 952, 957, 997, 19],
  [pmf('Tensor', '-2.5'), S1.t25, 1305, 1310, 1346, 19],
  [pmf('Scalar', '-2.9'), S1.s29, 598, 603, 640, 42],
  [pmf('Vector', '-2.9'), S1.v29, 952, 957, 997, 42],
  [pmf('Tensor', '-2.9'), S1.t29, 1305, 1310, 1346, 42]
];
leg1.forEach(([parts, st, te, a, b, yy]) => {
  const t = svg.append('text').attr('x', te).attr('y', yy + 6.5).attr('text-anchor', 'end').attr('font-size', 19.5);
  rich(t, parts, 19.5);
  svg.append('line').attr('x1', a).attr('x2', b).attr('y1', yy).attr('y2', yy)
    .attr('stroke', st.c).attr('stroke-width', st.w).attr('stroke-linecap', st.cap || 'butt')
    .attr('stroke-dasharray', st.d || null);
});

// ---------------- Panel 2
svg.append('rect').attr('x', 146).attr('y', 739).attr('width', 1210).attr('height', 90).attr('fill', '#6b747a');
svg.append('rect').attr('x', 140).attr('y', 733).attr('width', 1210).attr('height', 90).attr('fill', '#fff').attr('stroke', '#111').attr('stroke-width', 1.3);
svg.append('text').attr('x', 6).attr('y', 757).attr('font-size', 26).attr('font-weight', 'bold').text('Panel. 2');

function legText(parts, te, yy) {
  const t = svg.append('text').attr('x', te).attr('y', yy + 6.5).attr('text-anchor', 'end').attr('font-size', 19.5);
  rich(t, parts, 19.5);
}
function legLine(st, a, b, yy) {
  svg.append('line').attr('x1', a).attr('x2', b).attr('y1', yy).attr('y2', yy)
    .attr('stroke', st.c).attr('stroke-width', st.w).attr('stroke-dasharray', st.d || null);
}
function legData(ds, a, b, yy) {
  const g = svg.append('g');
  g.append('path').attr('d', `M${a},${yy - 5}v10M${a},${yy}H${b}M${b},${yy - 5}v10`).attr('stroke', ds.c).attr('stroke-width', 1.2).attr('fill', 'none');
  marker(g, ds.m, (a + b) / 2, yy, ds.c);
}
legText([['Primary', '']], 236, 750); legLine(S2.prim, 241, 290, 750);
[['WMAP', DS.WMAP, 750], ['ACBAR', DS.ACBAR, 777], ['CBI', DS.CBI, 804]].forEach(([n, ds, yy]) => { legText([[n, '']], 387, yy); legData(ds, 393, 440, yy); });
[['DASI', DS.DASI, 750], ['BOOM', DS.BOOM, 777], ['VSA', DS.VSA, 804]].forEach(([n, ds, yy]) => { legText([[n, '']], 527, yy); legData(ds, 533, 578, yy); });
const sTxt = (s, nb) => [['s', 'i'], ['(S)', 'sup'], ['=', ''], ['s', 'i'], ['(T)', 'sup'], ['=' + s + ', ', ''], ['n', 'i'], ['B', 'isub'], ['=' + nb + ', ', ''], ['B', 'i'], ['λ', 'sub'], ['=4 nG', '']];
[['1', S2.s1_29, 750], ['0', S2.s0_29, 777], ['-1', S2.sm_29, 804]].forEach(([s, st, yy]) => { legText(sTxt(s, '-2.9'), 907, yy); legLine(st, 912, 958, yy); });
[['1', S2.s1_25, 750], ['0', S2.s0_25, 777], ['-1', S2.sm_25, 804]].forEach(([s, st, yy]) => { legText(sTxt(s, '-2.5'), 1287, yy); legLine(st, 1292, 1338, yy); });

const FC2 = '#444';
const p2a = makePlot({xr: [119, 688], yr: [847, 1148], xd: [2, 1270], yd: [100, 1e4], ylab: [1e4, 1e3, 100], yMinor: true, xlab: [10, 100, 1000], fc: FC2});
const ticks2b = d3.range(400, 3001, 100).map(v => [v, v % 500 === 0]);
const p2b = makePlot({xr: [789, 1358], yr: [847, 1148], xd: [400, 3000], yd: [10, 1e4], ylab: [1e4, 1e3, 100, 10], yMinor: true, xlab: [500, 1000, 2000], xticks: ticks2b, fc: FC2});
const p2c = makePlot({xr: [119, 688], yr: [1199, 1501], xd: [2, 4100], yd: [1e-5, 1e4], ylab: [1e4, 1e3, 100, 10, 1, 0.1, 0.01, 1e-3, 1e-4, 1e-5], xlab: [10, 100, 1000], xdy: 20, fc: FC2});
const p2d = makePlot({xr: [797, 1358], yr: [1199, 1501], xd: [2, 3000], yd: [1e-6, 100], ylab: [100, 10, 1, 0.1, 0.01, 1e-3, 1e-4, 1e-5, 1e-6], xlab: [10, 100, 1000], xdy: 20, fc: FC2});

const order2 = ['sm_29', 'sm_25', 's0_25', 's0_29', 's1_25', 's1_29'];
const set2a = {sm_29: tt2a_sm_29, sm_25: tt2a_sm_25, s0_25: tt2a_s0_25, s0_29: tt2a_s0_29, s1_25: tt2a_s1_25, s1_29: tt2a_s1_29};
const set2b = {sm_29: tt2b_sm_29, sm_25: tt2b_sm_25, s0_25: tt2b_s0_25, s0_29: tt2b_s0_29, s1_25: tt2b_s1_25, s1_29: tt2b_s1_29};
const set2c = {sm_29: te2_sm_29, sm_25: te2_sm_25, s0_25: te2_s0_25, s0_29: te2_s0_29, s1_25: te2_s1_25, s1_29: te2_s1_29};
const set2d = {sm_29: bb2_sm_29, sm_25: bb2_sm_25, s0_25: bb2_s0_25, s0_29: bb2_s0_29, s1_25: bb2_s1_25, s1_29: bb2_s1_29};
order2.forEach(k => {
  curve(p2a, set2a[k], S2[k]);
  curve(p2b, zip(l_2b, set2b[k]), S2[k]);
  curve(p2c, set2c[k], S2[k]);
  curve(p2d, zip(l_2d, set2d[k]), S2[k]);
});
curve(p2d, bb2_prim, S2.prim);

errbars(p2a, wmap_2a, DS.WMAP);
errbars(p2a, acbar_2a, DS.ACBAR);
errbars(p2a, cbi_2a, DS.CBI);
errbars(p2a, vsa_2a, DS.VSA);
errbars(p2a, boom_2a, DS.BOOM);

errbars(p2b, wmap_2b, DS.WMAPo);
errbars(p2b, acbar_2b, DS.ACBAR);
errbars(p2b, cbi_2b, DS.CBI);
errbars(p2b, vsa_2b, DS.VSA);
errbars(p2b, boom_2b, DS.BOOM);

errbars(p2c, wmap_2c, DS.WMAPo);
errbars(p2c, dasi_2c, DS.DASI);
errbars(p2c, boom_2c, DS.BOOM);
errbars(p2c, cbi_2c, DS.CBI);

p2d.plot.append('line').attr('x1', p2d.x(wmap_2d_bin[0])).attr('x2', p2d.x(wmap_2d_bin[1]))
  .attr('y1', p2d.y(wmap_2d_bin[2])).attr('y2', p2d.y(wmap_2d_bin[2]))
  .attr('stroke', DS.WMAPo.c).attr('stroke-width', 2.2);
errbars(p2d, wmap_2d, DS.WMAPo);
errbars(p2d, boom_2d, DS.BOOM);
errbars(p2d, dasi_2d, DS.DASI);
errbars(p2d, cbi_2d, DS.CBI);

tag(132, 1106, 370, 32, [['(2a) TT mode, 2 < l < 1000', '']], 24);
tag(935, 857, 405, 32, [['(2b) TT mode, 400 < l < 3000', '']], 24);
tag(136, 1210, 200, 31, [['(2c) TE mode', '']], 24);
tag(1139, 1455, 197, 31, [['(2d) BB mode', '']], 24);

yTitle(42, 1175); yTitle(728, 1175);
xTitle(404, 1194); xTitle(1062, 1194); xTitle(404, 1542, 21); xTitle(1062, 1542, 21);
</script>
</body>
</html>
